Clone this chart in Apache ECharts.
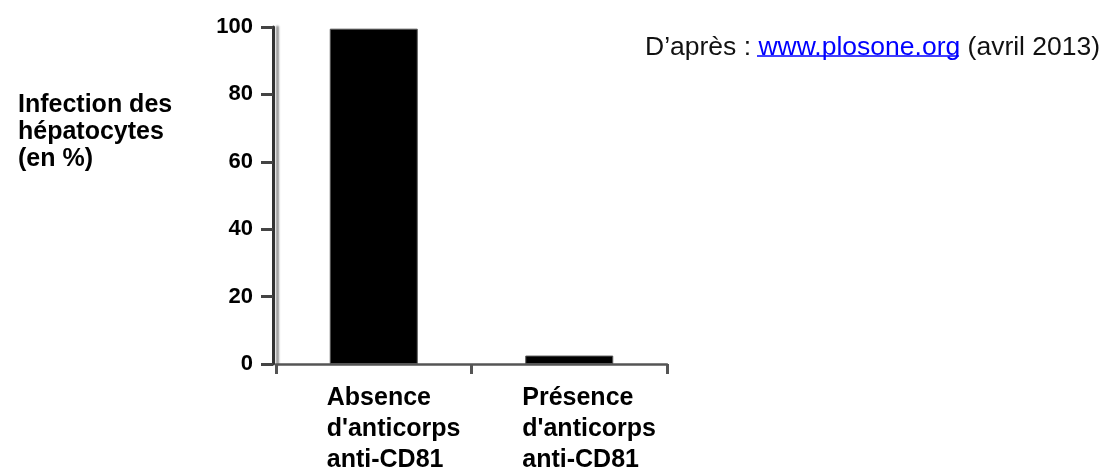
<!DOCTYPE html>
<html>
<head>
<meta charset="utf-8">
<script src="https://cdn.jsdelivr.net/npm/echarts@6/dist/echarts.min.js"></script>
<style>html,body{margin:0;padding:0;background:#fff;}#c{width:1108px;height:475px;}</style>
</head>
<body>
<div id="c"></div>
<script>
const categories = ["Absence\nd'anticorps\nanti-CD81", "Présence\nd'anticorps\nanti-CD81"];
const values = [99.5, 2.5];
const yTicks = [0, 20, 40, 60, 80, 100];
const yTitle = "Infection des\nhépatocytes\n(en %)";
const sourcePrefix = "D’après : ";
const sourceLink = "www.plosone.org";
const sourceSuffix = " (avril 2013)";

const FONT = "'Liberation Sans', Arial, sans-serif";
const chart = echarts.init(document.getElementById('c'), null, {renderer: 'canvas'});
chart.setOption({
  backgroundColor: '#fff',
  animation: false,
  title: [
    {
      text: yTitle,
      left: 13, top: 87,
      textStyle: {fontFamily: FONT, fontWeight: 'bold', fontSize: 25, lineHeight: 27, color: '#000'}
    },
    {
      text: sourcePrefix + '{link|' + sourceLink + '}' + sourceSuffix,
      left: 640, top: 29,
      textStyle: {
        fontFamily: FONT, fontWeight: 'normal', fontSize: 26.5, color: '#111',
        rich: {link: {fontFamily: FONT, fontSize: 26.5, color: '#0000ff'}}
      }
    }
  ],
  graphic: [
    {type: 'line', shape: {x1: 757, y1: 56, x2: 959, y2: 56}, style: {stroke: '#0000ff', lineWidth: 1.6}}
  ],
  grid: {left: 276, right: 441, top: 27, bottom: 111},
  xAxis: {
    type: 'category',
    data: categories,
    boundaryGap: true,
    axisLine: {lineStyle: {color: '#555', width: 2.5}},
    axisTick: {show: true, inside: false, length: 10, lineStyle: {color: '#555', width: 3}},
    axisLabel: {
      margin: 19,
      interval: 0,
      formatter: function (v) { return v.split('\n').map(s => '{a|' + s + '}').join('\n'); },
      rich: {a: {fontFamily: FONT, fontWeight: 'bold', fontSize: 25, lineHeight: 31, color: '#000', width: 94, align: 'left'}}
    }
  },
  yAxis: {
    type: 'value',
    min: 0, max: 100, interval: 20,
    offset: 3,
    axisLine: {show: true, lineStyle: {color: '#333', width: 3, shadowColor: '#999', shadowOffsetX: 4, shadowBlur: 2}},
    axisTick: {show: true, length: 12, lineStyle: {color: '#444', width: 3}},
    splitLine: {show: false},
    axisLabel: {
      margin: 20,
      fontFamily: FONT, fontWeight: 'bold', fontSize: 22, color: '#000',
      formatter: function (v) { return yTicks.indexOf(v) >= 0 ? String(v) : ''; }
    }
  },
  series: [{
    type: 'bar',
    data: values,
    barWidth: 88,
    itemStyle: {color: '#000', borderColor: '#555', borderWidth: 1}
  }]
});
</script>
</body>
</html>
